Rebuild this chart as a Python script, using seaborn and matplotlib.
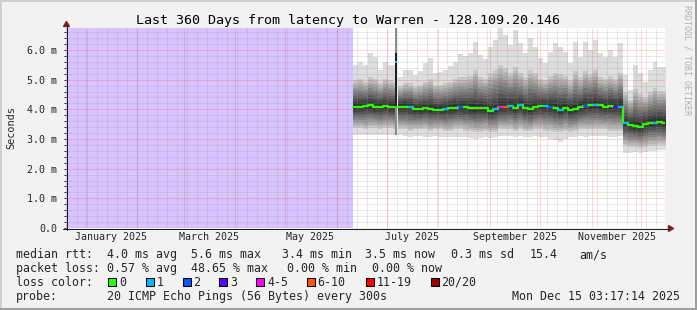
import matplotlib
matplotlib.use("Agg")
import matplotlib.pyplot as plt
import matplotlib.dates as mdates
import numpy as np
import pandas as pd
import seaborn as sns
from matplotlib.patches import Rectangle, Polygon
from matplotlib.lines import Line2D

sns.set_style("white")
plt.rcParams['font.family'] = ['DejaVu Sans Mono']

# ---------------- data ----------------
graph_start = "2024-12-20 03:17:14"
graph_end = "2025-12-15 03:17:14"
nodata_end = "2025-06-10 15:00"          # lavender (no data) region ends here
bin_first = "2025-06-10 15:00"           # first 3-day bin of measurements
bin_days = 3

median_ms = [4.09, 4.09, 4.11, 4.13, 4.09, 4.09, 4.11, 4.09, 4.09,
             4.09, 4.09, 4.07, 4.01, 4.01, 4.03, 4.01, 3.99, 3.99, 4.00, 4.03, 4.05,
             4.07, 4.07, 4.03, 4.03, 4.05, 4.03, 3.94, 4.00, 4.07, 4.09,
             4.11, 4.05, 4.13, 4.03, 4.00, 4.07, 4.11, 4.11, 4.09, 4.05,
             3.99, 4.05, 3.99, 4.00, 4.07, 4.11, 4.13, 4.15, 4.13, 4.09, 4.11, 4.09, 4.09,
             3.53, 3.47, 3.45, 3.41, 3.51, 3.55, 3.55, 3.58, 3.53]
loss_idx = [0, 0, 0, 0, 0, 0, 0, 0, 0,
            0, 0, 1, 0, 0, 0, 0, 0, 0, 1, 0, 0,
            2, 0, 0, 0, 0, 0, 0, 1, 4, 5,
            1, 0, 1, 0, 0, 0, 0, 1, 2, 0,
            1, 0, 0, 0, 0, 2, 0, 1, 0, 0, 0, 3, 1,
            1, 0, 0, 0, 0, 0, 1, 0, 0]
smoke_min = [3.13, 3.15, 3.13, 3.15, 3.15, 3.13, 3.15, 3.15, 3.13,
             3.13, 3.10, 3.08, 3.10, 3.10, 3.08, 3.08, 3.10, 3.08, 3.05, 3.05, 3.08,
             3.08, 3.05, 3.02, 3.00, 3.02, 3.05, 3.02, 3.05, 3.10, 3.10,
             3.10, 3.05, 3.10, 3.05, 3.05, 3.10, 3.08, 3.05, 3.00, 2.95,
             2.90, 3.00, 3.05, 3.08, 3.10, 3.08, 3.10, 3.10, 3.10, 3.10, 3.08, 3.08, 3.10,
             2.52, 2.52, 2.55, 2.52, 2.55, 2.60, 2.58, 2.62, 2.62]
smoke_lo = [3.40, 3.40, 3.35, 3.40, 3.40, 3.35, 3.40, 3.40, 3.35,
            3.35, 3.35, 3.30, 3.35, 3.35, 3.35, 3.30, 3.35, 3.35, 3.30, 3.30, 3.35,
            3.35, 3.30, 3.30, 3.25, 3.25, 3.30, 3.25, 3.25, 3.35, 3.35,
            3.35, 3.30, 3.35, 3.30, 3.30, 3.35, 3.35, 3.30, 3.30, 3.25,
            3.25, 3.30, 3.25, 3.30, 3.35, 3.35, 3.35, 3.35, 3.35, 3.35, 3.30, 3.30, 3.30,
            2.80, 2.75, 2.75, 2.72, 2.75, 2.80, 2.80, 2.82, 2.82]
smoke_hi = [4.95, 5.00, 4.90, 5.05, 5.00, 4.85, 5.00, 4.95, 4.90,
            4.75, 4.85, 4.85, 4.75, 4.80, 4.90, 5.00, 4.80, 4.80, 4.85, 4.90, 5.00,
            5.05, 5.05, 5.10, 5.30, 5.05, 5.00, 5.20, 5.30, 5.45, 5.35,
            5.20, 5.40, 5.20, 5.05, 5.30, 5.20, 5.00, 4.95, 5.10, 5.20,
            5.15, 5.10, 4.95, 5.25, 5.05, 5.25, 5.15, 5.30, 5.05, 5.00, 5.10, 5.00, 5.20,
            4.55, 4.30, 4.65, 4.50, 4.40, 4.55, 4.70, 4.60, 4.60]
smoke_max = [5.49, 5.60, 5.49, 5.89, 5.77, 5.32, 5.60, 5.49, 5.49,
             5.10, 5.32, 5.32, 5.16, 5.30, 5.55, 5.72, 5.21, 5.25, 5.32, 5.45, 5.60,
             5.85, 5.80, 5.90, 6.28, 5.83, 5.70, 6.11, 6.34, 6.90, 6.50,
             6.17, 6.67, 6.22, 5.89, 6.39, 6.11, 5.72, 5.55, 5.94, 6.22,
             6.10, 5.94, 5.55, 6.28, 5.77, 6.28, 6.00, 6.34, 5.89, 5.77, 6.00, 5.77, 6.22,
             5.16, 4.65, 5.49, 5.21, 4.93, 5.32, 5.60, 5.44, 5.44]

# short outage spike in early July, followed by a missing sample
spike_from, spike_to = "2025-07-05 20:00", "2025-07-06 20:00"
spike_median, spike_loss = 5.6, 1
spike_min, spike_core_lo, spike_core_hi, spike_max = 3.15, 4.10, 5.90, 6.90
gap_from, gap_to = "2025-07-06 20:00", "2025-07-07 15:00"

y_ticks = [0, 1, 2, 3, 4, 5, 6]
y_tick_labels = ["0.0", "1.0 m", "2.0 m", "3.0 m", "4.0 m", "5.0 m", "6.0 m"]
x_label_dates = ["2025-01-16", "2025-03-16", "2025-05-16", "2025-07-16", "2025-09-16", "2025-11-16"]
x_label_text = ["January 2025", "March 2025", "May 2025", "July 2025", "September 2025", "November 2025"]

loss_labels = ["0", "1", "2", "3", "4-5", "6-10", "11-19", "20/20"]
loss_colors = ["#26ff00", "#00b8ff", "#0059ff", "#5e00ff", "#ff00ff", "#ff5500", "#ff0000", "#a10000"]

title = "Last 360 Days from latency to Warren - 128.109.20.146"
legend_rtt = [("median rtt:", 16), ("4.0 ms avg", 107), ("5.6 ms max", 191),
              ("3.4 ms min", 282), ("3.5 ms now", 365), ("0.3 ms sd", 451),
              ("15.4", 530), ("am/s", 579)]
legend_loss = [("packet loss:", 16), ("0.57 % avg", 107), ("48.65 % max", 191),
               ("0.00 % min", 287), ("0.00 % now", 372)]
probe_text = "20 ICMP Echo Pings (56 Bytes) every 300s"
stamp_text = "Mon Dec 15 03:17:14 2025"

# ---------------- style ----------------
W, H = 697, 310
BACK = "#f2f2f2"
GRID = (0.56, 0.56, 0.56, 0.38)
MGRID = (0.87, 0.31, 0.31, 0.45)
AXISC = "#1f1f1f"
ARROW = "#801f1f"
LAV = "#d9c3ff"

def fx(px):
    return px / W

def fy(py):
    return 1 - py / H

fig = plt.figure(figsize=(W / 100, H / 100), dpi=100, facecolor=BACK)
ax = fig.add_axes([fx(66), fy(228), (665 - 66) / W, 200 / H])
ax.set_facecolor("white")

t0 = mdates.date2num(pd.Timestamp(graph_start))
t1 = mdates.date2num(pd.Timestamp(graph_end))
ax.set_xlim(t0, t1)
ax.set_ylim(0, 6.74)

# no-data region
ax.axvspan(t0, mdates.date2num(pd.Timestamp(nodata_end)), color=LAV, lw=0, zorder=0)

# ---- smoke ----
starts = pd.date_range(bin_first, periods=len(median_ms), freq=f"{bin_days}D")
edges = mdates.date2num(list(starts) + [starts[-1] + pd.Timedelta(days=bin_days)])
med = np.array(median_ms + [median_ms[-1]])
mn = np.array(smoke_min + [smoke_min[-1]])
lo = np.array(smoke_lo + [smoke_lo[-1]])
hi = np.array(smoke_hi + [smoke_hi[-1]])
mx = np.array(smoke_max + [smoke_max[-1]])

ax.fill_between(edges, mn, mx, step="post", color="#dddddd", lw=0, zorder=1)
n_layers = 10
shades = np.linspace(0.78, 0.20, n_layers)
for k in range(n_layers):
    t = k / n_layers
    up = hi + (med - hi) * t + 0.03
    dn = lo + (med - lo) * t - 0.03
    g = shades[k]
    ax.fill_between(edges, dn, up, step="post", color=(g, g, g), lw=0, zorder=1)

# spike + gap
s0 = mdates.date2num(pd.Timestamp(spike_from))
s1 = mdates.date2num(pd.Timestamp(spike_to))
g0 = mdates.date2num(pd.Timestamp(gap_from))
g1 = mdates.date2num(pd.Timestamp(gap_to))
ax.fill_between([s0, s1], [spike_min] * 2, [spike_max] * 2, color="#8a8a8a", lw=0, zorder=1.1)
ax.fill_between([s0, s1], [spike_core_lo] * 2, [spike_core_hi] * 2, color="#1e1e1e", lw=0, zorder=1.2)
ax.fill_between([g0, g1], [0] * 2, [7] * 2, color="white", lw=0, zorder=1.3)

# ---- grid (1px dotted lines) ----
dash = (0, (1, 1))
for v in np.arange(0.2, 6.74, 0.2):
    if abs(v - round(v)) < 1e-6:
        continue
    ax.axhline(v, color=GRID, lw=0.72, ls=dash, zorder=2)
for v in y_ticks[1:]:
    ax.axhline(v, color=MGRID, lw=0.72, ls=dash, zorder=2.1)

minor_days = pd.date_range("2024-12-21", graph_end, freq="6D")
month_starts = pd.date_range("2025-01-01", graph_end, freq="MS")
for d in minor_days:
    ax.axvline(mdates.date2num(d), color=GRID, lw=0.72, ls=dash, zorder=2)
for d in month_starts:
    ax.axvline(mdates.date2num(d), color=MGRID, lw=0.72, ls=dash, zorder=2.1)

# ---- median line (seaborn) ----
segA = pd.DataFrame({"t": list(edges[:9]) + [s0], "v": median_ms[:9] + [median_ms[8]]})
segB = pd.DataFrame({"t": list(edges[9:]), "v": median_ms[9:] + [median_ms[-1]]})
LW = 1.6
for seg in (segA, segB):
    sns.lineplot(data=seg, x="t", y="v", ax=ax, color=loss_colors[0], lw=LW,
                 drawstyle="steps-post", estimator=None, zorder=3)
for i, li in enumerate(loss_idx):
    if li > 0:
        ax.hlines(median_ms[i], edges[i], edges[i + 1], color=loss_colors[li], lw=LW, zorder=3.1)
ax.hlines(spike_median, s0, s1, color=loss_colors[spike_loss], lw=LW, zorder=3.1)

# ---- axes / ticks ----
for sp in ax.spines.values():
    sp.set_visible(False)
ax.set_xlabel("")
ax.set_ylabel("")
ax.set_yticks(y_ticks)
ax.set_yticklabels(y_tick_labels, fontsize=7.2)
ax.set_yticks(np.arange(0, 6.74, 0.2), minor=True)
ax.tick_params(axis="y", which="both", length=1.8, width=0.7, color=AXISC, pad=4.5, left=True)
ax.set_xticks([mdates.date2num(pd.Timestamp(d)) for d in x_label_dates])
ax.set_xticklabels(x_label_text, fontsize=7.2)
ax.tick_params(axis="x", which="both", length=0, pad=3.2)

# axis lines and arrows (figure pixel coords)
tr = fig.transFigure
fig.add_artist(Line2D([fx(66.5), fx(66.5)], [fy(230), fy(25)], color=AXISC, lw=0.75, transform=tr))
fig.add_artist(Line2D([fx(63), fx(669)], [fy(228.5), fy(228.5)], color=AXISC, lw=0.75, transform=tr))
fig.add_artist(Polygon([(fx(66.5), fy(21.5)), (fx(63.5), fy(26.5)), (fx(69.5), fy(26.5))],
                       closed=True, color=ARROW, transform=tr))
fig.add_artist(Polygon([(fx(673.5), fy(228.5)), (fx(668.5), fy(225.5)), (fx(668.5), fy(231.5))],
                       closed=True, color=ARROW, transform=tr))

# frame
fig.add_artist(Rectangle((0, fy(2)), 1, fy(0) - fy(2), color="#cfcfcf", lw=0, transform=tr))
fig.add_artist(Rectangle((0, 0), fx(2), 1, color="#cfcfcf", lw=0, transform=tr))
fig.add_artist(Rectangle((fx(695), 0), fx(2), 1, color="#9e9e9e", lw=0, transform=tr))
fig.add_artist(Rectangle((0, 0), 1, 2 / H, color="#9e9e9e", lw=0, transform=tr))

# ---- texts ----
fig.text(fx(347.7), fy(24.3), title, ha="center", va="baseline", fontsize=9.6, color="black")
fig.text(fx(11), fy(128), "Seconds", rotation=90, ha="center", va="center", fontsize=7.4)
fig.text(fx(687.5), fy(60), "RRDTOOL / TOBI OETIKER", rotation=270, ha="center", va="center",
         fontsize=6.0, color="#b0b0b0")

LFS = 8.35
for s, x in legend_rtt:
    fig.text(fx(x), fy(258.3), s, ha="left", va="baseline", fontsize=LFS)
for s, x in legend_loss:
    fig.text(fx(x), fy(272), s, ha="left", va="baseline", fontsize=LFS)
fig.text(fx(16), fy(285.8), "loss color:", ha="left", va="baseline", fontsize=LFS)
sq_x = [108, 145.5, 182.5, 219, 256, 306.5, 365.5, 430.5]
for lab, col, x in zip(loss_labels, loss_colors, sq_x):
    fig.add_artist(Rectangle((fx(x), fy(286)), 8 / W, 8 / H, facecolor=col, edgecolor="black",
                             lw=0.75, transform=tr))
    fig.text(fx(x + 11), fy(285.8), lab, ha="left", va="baseline", fontsize=LFS)
fig.text(fx(16), fy(299.6), "probe:", ha="left", va="baseline", fontsize=LFS)
fig.text(fx(107), fy(299.6), probe_text, ha="left", va="baseline", fontsize=LFS)
fig.text(fx(680.5), fy(299.6), stamp_text, ha="right", va="baseline", fontsize=LFS)

fig.savefig("out.png", dpi=100, facecolor=BACK)
